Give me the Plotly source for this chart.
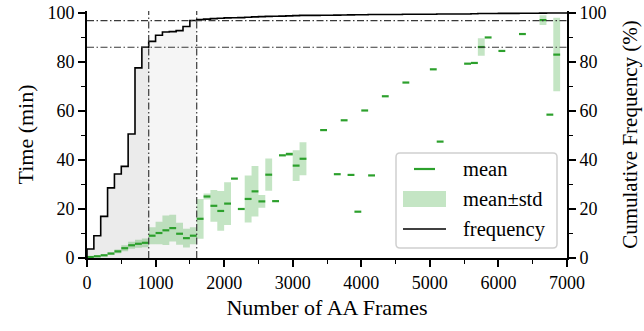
import plotly.graph_objects as go

# ---------------- data ----------------
bin_width = 100
bin_start = [0, 100, 200, 300, 400, 500, 600, 700, 800,
             900, 1000, 1100, 1200, 1300, 1400, 1500,
             1600, 1700, 1800, 1900, 2000, 2100, 2200, 2300, 2400, 2500,
             2600, 2700, 2800, 2900, 3000, 3100,
             3400, 3600, 3700, 3800, 3900, 4000, 4100, 4300, 4600,
             5000, 5100, 5500, 5600, 5700, 5800, 6000, 6300, 6600, 6700, 6800]
mean_min = [0.4, 0.7, 1.1, 1.8, 2.7, 4.0, 5.2, 5.8, 6.2,
            9.1, 10.2, 11.3, 12.2, 9.9, 8.1, 9.1,
            16.0, 25.1, 21.3, 19.2, 22.2, 32.4, 20.0, 24.1, 27.2, 23.1,
            34.0, 23.2, 41.9, 42.4, 37.7, 40.5,
            52.2, 34.2, 56.2, 33.9, 18.9, 60.2, 33.7, 66.0, 71.6,
            77.0, 47.5, 79.3, 79.6, 86.1, 90.0, 84.5, 91.4, 97.1, 58.5, 83.0]
std_min = [0.2, 0.3, 0.4, 0.5, 0.8, 1.2, 1.4, 1.6, 1.8,
           3.5, 4.6, 6.0, 5.5, 4.5, 3.8, 3.5,
           8.1, 1.2, 6.5, 8.1, 8.7, 0, 0, 9.6, 10.3, 2.6,
           6.6, 0, 0, 0.8, 6.3, 6.7,
           0, 0, 0, 0, 0, 0, 0, 0, 0,
           0, 0, 0, 0, 3.6, 0, 0, 0, 2.0, 0, 15.0]
cum_freq = [3.7, 9.1, 17.0, 28.6, 34.3, 37.4, 50.6, 77.6, 86.0,
            88.4, 90.9, 92.2, 92.4, 92.8, 94.5, 96.9,
            97.3, 97.5, 97.7, 97.85, 98.0, 98.05, 98.1, 98.25, 98.4, 98.5,
            98.6, 98.65, 98.7, 98.8, 98.9, 99.0,
            99.05, 99.1, 99.15, 99.2, 99.25, 99.3, 99.35, 99.4, 99.45,
            99.5, 99.55, 99.6, 99.65, 99.75, 99.8, 99.85, 99.9, 99.95, 99.97, 100.0]
cutoffs = [900, 1600]
x_max = 7000

GREEN = "#2ca02c"
BAND = "rgba(44,160,44,0.28)"
FONT = "Liberation Serif"

fig = go.Figure()

# gray fills under cumulative frequency up to the cutoffs
fill_colors = ["#ebebeb", "#f5f5f5"]
prev = 0
for cut, col in zip(cutoffs, fill_colors):
    idx = [i for i, b in enumerate(bin_start) if prev <= b < cut]
    xs = [bin_start[i] for i in idx] + [cut]
    ys = [cum_freq[i] for i in idx] + [cum_freq[idx[-1]]]
    fig.add_trace(go.Scatter(x=xs, y=ys, mode="lines", line=dict(width=0, shape="hv"),
                             fill="tozeroy", fillcolor=col, showlegend=False,
                             hoverinfo="skip"))
    prev = cut

# std bands
bx, by = [], []
for b, m, s in zip(bin_start, mean_min, std_min):
    if s > 0:
        bx += [b, b + bin_width, b + bin_width, b, b, None]
        by += [m - s, m - s, m + s, m + s, m - s, None]
fig.add_trace(go.Scatter(x=bx, y=by, mode="lines", fill="toself", fillcolor=BAND,
                         line=dict(width=0), showlegend=False, name="mean±std"))

# means
mx, my = [], []
for b, m in zip(bin_start, mean_min):
    mx += [b, b + bin_width, None]
    my += [m, m, None]
fig.add_trace(go.Scatter(x=mx, y=my, mode="lines", line=dict(color=GREEN, width=2.2),
                         showlegend=False, name="mean", connectgaps=False))

# cumulative frequency step line
fx = [0] + bin_start + [x_max]
fy = [0] + cum_freq + [cum_freq[-1]]
fig.add_trace(go.Scatter(x=fx, y=fy, mode="lines", line=dict(color="black", width=1.6, shape="hv"),
                         showlegend=False, name="frequency"))

# dummy trace for right axis
fig.add_trace(go.Scatter(x=[None], y=[None], yaxis="y2", showlegend=False, hoverinfo="skip"))

# cutoff dash-dot lines
DD = "7px,2.5px,1.5px,2.5px"
for cut in cutoffs:
    level = cum_freq[bin_start.index(cut - bin_width)]
    fig.add_shape(type="line", xref="x", yref="paper", x0=cut, x1=cut, y0=0, y1=1,
                  line=dict(color="#3a3a3a", width=1.2, dash=DD), layer="above")
    fig.add_shape(type="line", xref="paper", yref="y", x0=0, x1=1, y0=level, y1=level,
                  line=dict(color="#3a3a3a", width=1.2, dash=DD), layer="above")

# ---------------- geometry ----------------
L, R, T, B = 87, 567, 11, 258
W, H = R - L, B - T
def px(v): return (v - L) / W
def py(v): return (B - v) / H

# ---------------- manual legend ----------------
bx0, bx1, by0, by1 = 396, 557, 153, 248
r = 4
path = (f"M{px(bx0 + r)},{py(by0)} L{px(bx1 - r)},{py(by0)} Q{px(bx1)},{py(by0)} {px(bx1)},{py(by0 + r)} "
        f"L{px(bx1)},{py(by1 - r)} Q{px(bx1)},{py(by1)} {px(bx1 - r)},{py(by1)} "
        f"L{px(bx0 + r)},{py(by1)} Q{px(bx0)},{py(by1)} {px(bx0)},{py(by1 - r)} "
        f"L{px(bx0)},{py(by0 + r)} Q{px(bx0)},{py(by0)} {px(bx0 + r)},{py(by0)} Z")
fig.add_shape(type="path", path=path, xref="paper", yref="paper",
              fillcolor="rgba(255,255,255,0.85)", line=dict(color="#d0d0d0", width=1.5), layer="above")
rows = [169, 199, 229]
fig.add_shape(type="line", xref="paper", yref="paper", x0=px(414), x1=px(435), y0=py(rows[0]), y1=py(rows[0]),
              line=dict(color=GREEN, width=2.2), layer="above")
fig.add_shape(type="rect", xref="paper", yref="paper", x0=px(403), x1=px(446), y0=py(rows[1] - 8), y1=py(rows[1] + 8),
              fillcolor=BAND, line=dict(width=0), layer="above")
fig.add_shape(type="line", xref="paper", yref="paper", x0=px(403), x1=px(446), y0=py(rows[2]), y1=py(rows[2]),
              line=dict(color="black", width=1.6), layer="above")
for txt, yr in zip(["mean", "mean±std", "frequency"], rows):
    fig.add_annotation(text=txt, xref="paper", yref="paper", x=px(461), y=py(yr),
                       xanchor="left", yanchor="middle", showarrow=False,
                       font=dict(family=FONT, size=20.5, color="black"))

axis_common = dict(showgrid=False, zeroline=False, showline=True, linecolor="black", linewidth=2,
                   ticks="outside", ticklen=7, tickwidth=1.5, tickcolor="black", automargin=False,
                   tickfont=dict(family=FONT, size=18, color="black"))
minor = dict(ticks="outside", ticklen=4, tickwidth=1.2, tickcolor="black")

fig.update_layout(
    template="none",
    width=644, height=331,
    margin=dict(l=L, r=644 - R, t=T, b=331 - B, pad=0),
    plot_bgcolor="white", paper_bgcolor="white",
    font=dict(family=FONT, color="black"),
    xaxis=dict(range=[0, x_max], dtick=1000, tick0=0, minor=dict(dtick=500, **minor),
               title=dict(text="Number of AA Frames", font=dict(family=FONT, size=22), standoff=8),
               **axis_common),
    yaxis=dict(range=[0, 100.8], dtick=20, tick0=0, minor=dict(dtick=10, **minor),
               title=dict(text="Time (min)", font=dict(family=FONT, size=22), standoff=8),
               **axis_common),
    yaxis2=dict(range=[0, 100.8], dtick=20, tick0=0, minor=dict(dtick=10, **minor),
                overlaying="y", side="right", anchor="x",
                title=dict(text="Cumulative Frequency (%)", font=dict(family=FONT, size=21), standoff=17),
                **axis_common),
    showlegend=False,
)

fig.write_html("out.html", config={"displayModeBar": False},
               post_script="document.body.style.margin='0px';")
